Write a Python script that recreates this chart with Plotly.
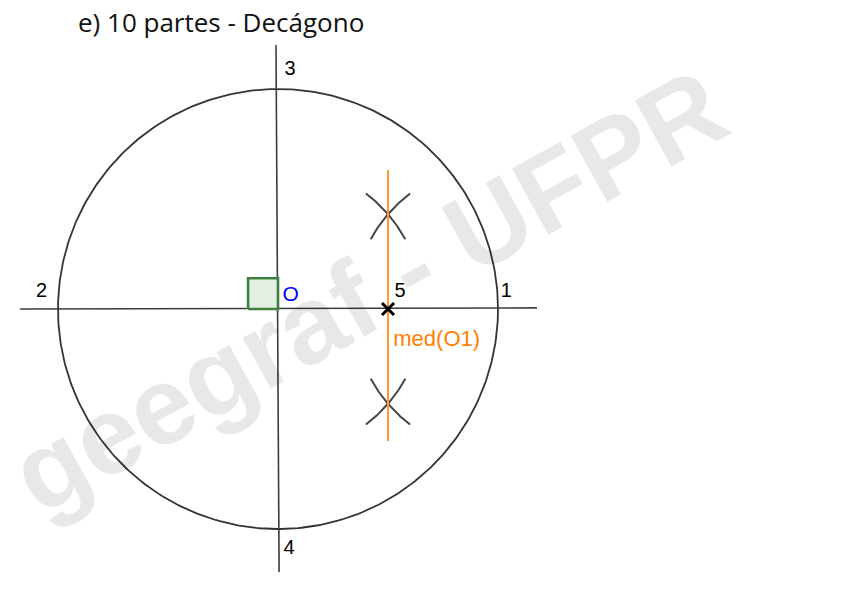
import numpy as np
import plotly.graph_objects as go

# ---- data (geometric units: circle radius = 1, centre O at origin) ----
circle_center = [0.0, 0.0]
circle_radius = 1.0
h_line_x = [-1.173, 1.177]
h_line_y = [0.0, 0.005]
v_line_x = [-0.009, 0.005]
v_line_y = [1.20, -1.195]
mediatrix_x = [0.5, 0.5]
mediatrix_y = [0.632, -0.60]
arc_radius = 0.66
arc_centers = [[0.0, 0.0], [1.0, 0.0]]
arc_half_span_deg = 12
square_x = [-0.136, 0.0, 0.0, -0.136, -0.136]
square_y = [0.0, 0.0, 0.14, 0.14, 0.0]
point5 = [0.5, 0.0]
labels = ["3", "4", "2", "1", "5"]
label_x = [0.055, 0.05, -1.075, 1.038, 0.555]
label_y = [1.085, -1.09, 0.077, 0.077, 0.077]
title_text = "e) 10 partes - Decágono"
watermark = "geegraf - UFPR"

fig = go.Figure()

# circle
t = np.linspace(0, 2 * np.pi, 400)
fig.add_trace(go.Scatter(x=circle_center[0] + circle_radius * np.cos(t),
                         y=circle_center[1] + circle_radius * np.sin(t),
                         mode="lines", line=dict(color="#333333", width=1.8)))
# axes lines
fig.add_trace(go.Scatter(x=h_line_x, y=h_line_y, mode="lines",
                         line=dict(color="#3c3c3c", width=1.6)))
fig.add_trace(go.Scatter(x=v_line_x, y=v_line_y, mode="lines",
                         line=dict(color="#3c3c3c", width=1.6)))
# right-angle square
fig.add_trace(go.Scatter(x=square_x, y=square_y, mode="lines", fill="toself",
                         fillcolor="#e4efe4", line=dict(color="#3d803d", width=2.6)))
# arcs
a = np.sqrt(arc_radius**2 - 0.25)
for sgn in (1, -1):
    for (cx, cy) in arc_centers:
        base = np.degrees(np.arctan2(sgn * a, 0.5 - cx))
        ang = np.radians(np.linspace(base - arc_half_span_deg, base + arc_half_span_deg, 50))
        fig.add_trace(go.Scatter(x=cx + arc_radius * np.cos(ang),
                                 y=cy + arc_radius * np.sin(ang),
                                 mode="lines", line=dict(color="#444444", width=2)))
# mediatrix
fig.add_trace(go.Scatter(x=mediatrix_x, y=mediatrix_y, mode="lines",
                         line=dict(color="#ff9a33", width=2)))
# point 5
fig.add_trace(go.Scatter(x=[point5[0]], y=[point5[1]], mode="markers",
                         marker=dict(symbol="x-thin", size=12,
                                     line=dict(color="black", width=3))))
# labels
fig.add_trace(go.Scatter(x=label_x, y=label_y, mode="text", text=labels,
                         textfont=dict(family="Liberation Sans", size=20, color="black")))
fig.add_trace(go.Scatter(x=[0.02], y=[0.06], mode="text", text=["O"],
                         textposition="middle right",
                         textfont=dict(family="Liberation Sans", size=21, color="#0000ff")))
fig.add_trace(go.Scatter(x=[0.524], y=[-0.145], mode="text", text=["med(O1)"],
                         textposition="middle right",
                         textfont=dict(family="Liberation Sans", size=22, color="#ff8000")))

fig.add_annotation(x=68 / 856, xref="paper", y=1 - 14 / 599, yref="paper",
                   xanchor="left", yanchor="middle",
                   text=title_text, showarrow=False,
                   font=dict(family="Open Sans", size=26, color="#111111"))
fig.add_annotation(x=0.41, y=0.085, text="<b>" + watermark + "</b>", showarrow=False,
                   textangle=-29, font=dict(family="Liberation Sans", size=110,
                                            color="rgba(0,0,0,0.09)"))

fig.update_layout(width=856, height=599, margin=dict(l=0, r=0, t=0, b=0),
                  paper_bgcolor="white", plot_bgcolor="white", showlegend=False,
                  xaxis=dict(range=[-270 / 220, 586 / 220], visible=False, fixedrange=True),
                  yaxis=dict(range=[-298 / 220, 301 / 220], visible=False, fixedrange=True))
fig.write_html("out.html")
